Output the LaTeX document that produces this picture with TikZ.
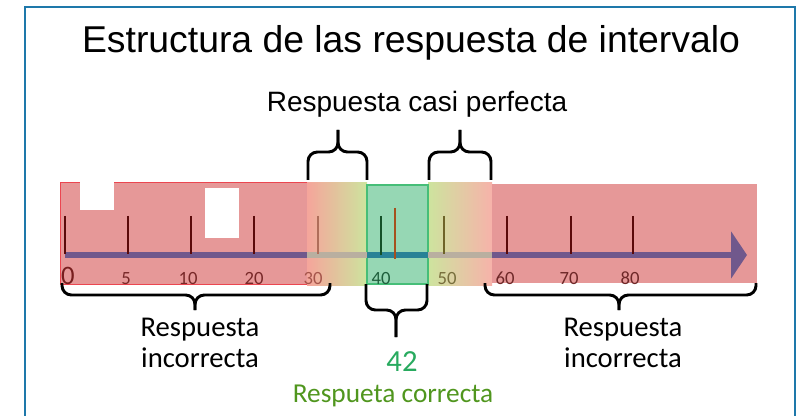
\documentclass[tikz,border=0pt]{standalone}
\usepackage{fontspec}
\setmainfont{Carlito}
\newfontfamily\arialfont{Liberation Sans}
\usetikzlibrary{arrows.meta,positioning}
\definecolor{frameblue}{RGB}{30,120,170}
\definecolor{zonered}{RGB}{230,152,152}
\definecolor{zoneedge}{RGB}{235,70,80}
\definecolor{zonegreen}{RGB}{150,215,180}
\definecolor{greenedge}{RGB}{70,190,120}
\definecolor{pinkish}{RGB}{245,165,155}
\definecolor{yellowish}{RGB}{252,222,135}
\definecolor{greenish}{RGB}{205,228,158}
\definecolor{barpurple}{RGB}{112,88,140}
\definecolor{bargray}{RGB}{185,175,160}
\definecolor{barteal}{RGB}{40,130,150}
\definecolor{maroon}{RGB}{90,10,10}
\definecolor{okgreen}{RGB}{40,170,95}
\definecolor{oliveok}{RGB}{80,150,30}

\begin{document}
\begin{tikzpicture}
	[ x=0.75pt,y=-0.75pt,
		frameline/.style={draw=frameblue,line width=1.5pt},
		bracket/.style={line width=2.2pt,rounded corners=7pt},
		axisbar/.style={line width=5.2pt},
		tickmark/.style={line width=1.7pt},
		numlabel/.style={font=\fontsize{14}{14}\selectfont,inner sep=0pt,anchor=base},
		answer/.style={font=\fontsize{21.5}{23}\selectfont,align=center,inner sep=0pt}]

	\useasboundingbox (0,0) rectangle (798,416);
	\draw[frameline] (25,416) -- (25,7) -- (795,7) -- (795,416);

	\node[font=\arialfont\fontsize{28}{32}\selectfont] (title) at (411,43) {Estructura de las respuesta de intervalo};
	\node[font=\arialfont\fontsize{21}{24}\selectfont] (almost) at (417,104) {Respuesta casi perfecta};

	% zones
	\fill[zonered,draw=zoneedge,line width=0.6pt] (60,182) rectangle (307,284);
	\shade[left color=pinkish,middle color=yellowish,right color=greenish] (307,183) rectangle (367,285);
	\shade[left color=greenish,middle color=yellowish,right color=pinkish!85!white] (428,183) rectangle (492,285);
	\fill[zonered] (492,184) rectangle (757,283);
	\fill[zonegreen,draw=greenedge,line width=0.8pt] (367,185) rectangle (428,284);
	\fill[white] (80,182) rectangle (114,210);
	\fill[white] (205,188) rectangle (239,238);

	% axis
	\coordinate (start) at (65,255);
	\coordinate (tip) at (747,255);
	\draw[axisbar,barpurple] (start) -- (307,255);
	\draw[axisbar,bargray] (307,255) -- (367,255);
	\draw[axisbar,barteal] (367,255) -- (428,255);
	\draw[axisbar,bargray] (428,255) -- (492,255);
	\draw[axisbar,barpurple,-{Triangle[width=35pt,length=12pt]}] (492,255) -- (tip);

	\foreach \x/\col in {65/maroon,128/maroon,191/maroon,254/maroon,507/maroon,571/maroon,633/maroon}
		\draw[tickmark,\col] (\x,216) -- (\x,254);
	\draw[tickmark,line width=1.2pt,color={rgb,255:red,175;green,110;blue,90}] (318,216) -- (318,254);
	\draw[tickmark,color={rgb,255:red,20;green,80;blue,40}] (381,216) -- (381,255);
	\draw[tickmark,color={rgb,255:red,165;green,80;blue,30}] (395,208) -- (395,259);
	\draw[tickmark,line width=1.3pt,color={rgb,255:red,110;green,100;blue,40}] (444,216) -- (444,254);

	\node[numlabel,font=\fontsize{20}{20}\selectfont,color={rgb,255:red,120;green,30;blue,30}] (n0) at (68,285) {0};
	\foreach \x/\lab in {126/5,188/10,254/20}
		\node[numlabel,color={rgb,255:red,120;green,40;blue,40}] (n\lab) at (\x,285) {\lab};
	\node[numlabel,color={rgb,255:red,165;green,85;blue,75}] (n30) at (313,285) {30};
	\node[numlabel,color={rgb,255:red,30;green,95;blue,60}] (n40) at (381,285) {40};
	\node[numlabel,color={rgb,255:red,120;green,110;blue,60}] (n50) at (447,285) {50};
	\foreach \x/\lab in {505/60,569/70,630/80}
		\node[numlabel,color={rgb,255:red,110;green,40;blue,40}] (n\lab) at (\x,285) {\lab};

	% braces
	\draw[bracket] (308,180) -- (308,152) -- (338,152) -- (338,130);
	\draw[bracket] (367,180) -- (367,152) -- (338,152) -- (338,130);
	\draw[bracket] (429,180) -- (429,152) -- (460,152) -- (460,130);
	\draw[bracket] (491,180) -- (491,152) -- (460,152) -- (460,130);

	\draw[bracket] (62,283) -- (62,295) -- (195,295) -- (195,310);
	\draw[bracket] (330,283) -- (330,295) -- (195,295) -- (195,310);
	\draw[bracket] (366,284) -- (366,310) -- (396,310) -- (396,337);
	\draw[bracket] (427,284) -- (427,310) -- (396,310) -- (396,337);
	\draw[bracket] (485,283) -- (485,295) -- (619,295) -- (619,310);
	\draw[bracket] (756,283) -- (756,295) -- (619,295) -- (619,310);

	\node[answer] (wrong left) at (200,343) {Respuesta\\incorrecta};
	\node[answer] (wrong right) at (623,343) {Respuesta\\incorrecta};
	\node[font=\fontsize{23}{23}\selectfont,text=okgreen,inner sep=0pt] (value) at (402,362) {42};
	\node[font=\fontsize{20.5}{22}\selectfont,text=oliveok,inner sep=0pt] (right) at (393,396) {Respueta correcta};
\end{tikzpicture}
\end{document}
